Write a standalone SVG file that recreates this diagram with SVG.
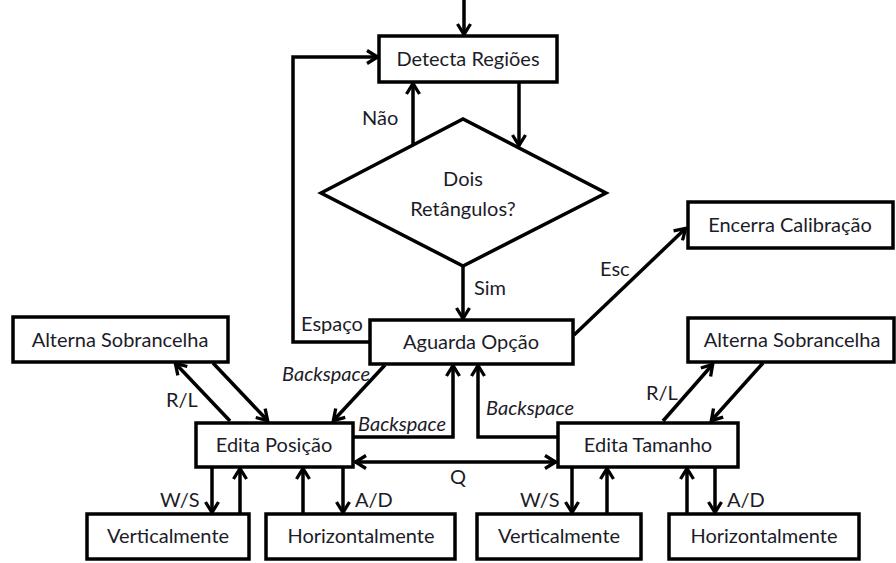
<svg xmlns="http://www.w3.org/2000/svg" width="896" height="563" viewBox="0 0 896 563">
<style>
.box{fill:#fff;stroke:#000;stroke-width:3.5}
.ln{fill:none;stroke:#000;stroke-width:3.5;marker-end:url(#ah)}
text{font-family:Lato,"Liberation Sans",sans-serif;font-size:20px;fill:#1c1c28}
.c{text-anchor:middle}
.i{font-style:italic}
</style>
<defs>
<marker id="ah" viewBox="0 0 14 16" refX="12.5" refY="8" markerWidth="14" markerHeight="16" markerUnits="userSpaceOnUse" orient="auto-start-reverse">
<path d="M1.5,1.5 L12,8 L1.5,14.5" fill="none" stroke="#000" stroke-width="3.3"/>
</marker>
</defs>
<rect width="896" height="563" fill="#fff"/>
<g id="connectors">
<line class="ln" x1="464" y1="0" x2="464" y2="35"/>
<polyline class="ln" points="370,342 293,342 293,57 378,57"/>
<line class="ln" x1="413" y1="146" x2="413" y2="83"/>
<line class="ln" x1="519" y1="83" x2="519" y2="146"/>
<line class="ln" x1="463" y1="266" x2="463" y2="319"/>
<line class="ln" x1="574" y1="335" x2="686" y2="228"/>
<line class="ln" x1="385" y1="365" x2="333" y2="421"/>
<polyline class="ln" points="353,437 453,437 453,365"/>
<polyline class="ln" points="558,437 478,437 478,365"/>
<line class="ln" x1="355" y1="462" x2="556" y2="462" style="marker-start:url(#ah)"/>
<line class="ln" x1="230" y1="421" x2="175" y2="363"/>
<line class="ln" x1="213" y1="363" x2="268" y2="421"/>
<line class="ln" x1="663" y1="421" x2="713" y2="364"/>
<line class="ln" x1="763" y1="363" x2="711" y2="421"/>
<line class="ln" x1="212" y1="467" x2="212" y2="513"/>
<line class="ln" x1="240" y1="514" x2="240" y2="468"/>
<line class="ln" x1="303" y1="514" x2="303" y2="468"/>
<line class="ln" x1="343" y1="467" x2="343" y2="513"/>
<line class="ln" x1="572" y1="467" x2="572" y2="513"/>
<line class="ln" x1="607" y1="514" x2="607" y2="468"/>
<line class="ln" x1="687" y1="514" x2="687" y2="468"/>
<line class="ln" x1="715" y1="467" x2="715" y2="513"/>
<text x="362" y="125">Não</text>
<text x="474" y="295">Sim</text>
<text x="600" y="276">Esc</text>
<text x="301" y="331">Espaço</text>
<text x="282" y="381" class="i">Backspace</text>
<text x="358" y="431" class="i">Backspace</text>
<text x="486" y="415" class="i">Backspace</text>
<text x="166" y="407">R/L</text>
<text x="646" y="400">R/L</text>
<text x="450" y="484">Q</text>
<text x="160" y="507">W/S</text>
<text x="355" y="507">A/D</text>
<text x="520" y="507">W/S</text>
<text x="727" y="507">A/D</text>
</g>
<g id="detecta"><rect class="box" x="379" y="36" width="178" height="46"/><text class="c" x="468" y="66">Detecta Regiões</text></g>
<g id="dois"><polygon class="box" points="321,193 463,119 606,193 463,266"/><text class="c" x="463" y="186">Dois</text><text class="c" x="463" y="216">Retângulos?</text></g>
<g id="aguarda"><rect class="box" x="370" y="320" width="203" height="44"/><text class="c" x="471" y="349">Aguarda Opção</text></g>
<g id="encerra"><rect class="box" x="688" y="202" width="205" height="46"/><text class="c" x="790" y="232">Encerra Calibração</text></g>
<g id="alterna-l"><rect class="box" x="13" y="317" width="215" height="45"/><text class="c" x="120" y="347">Alterna Sobrancelha</text></g>
<g id="alterna-r"><rect class="box" x="688" y="318" width="206" height="44"/><text class="c" x="792" y="347">Alterna Sobrancelha</text></g>
<g id="edita-pos"><rect class="box" x="196" y="423" width="157" height="44"/><text class="c" x="274" y="452">Edita Posição</text></g>
<g id="edita-tam"><rect class="box" x="558" y="423" width="180" height="44"/><text class="c" x="648" y="452">Edita Tamanho</text></g>
<g id="vert-l"><rect class="box" x="87" y="514" width="162" height="45"/><text class="c" x="168" y="543">Verticalmente</text></g>
<g id="horiz-l"><rect class="box" x="266" y="514" width="189" height="45"/><text class="c" x="361" y="543">Horizontalmente</text></g>
<g id="vert-r"><rect class="box" x="477" y="514" width="164" height="45"/><text class="c" x="559" y="543">Verticalmente</text></g>
<g id="horiz-r"><rect class="box" x="669" y="514" width="190" height="45"/><text class="c" x="764" y="543">Horizontalmente</text></g>
</svg>
